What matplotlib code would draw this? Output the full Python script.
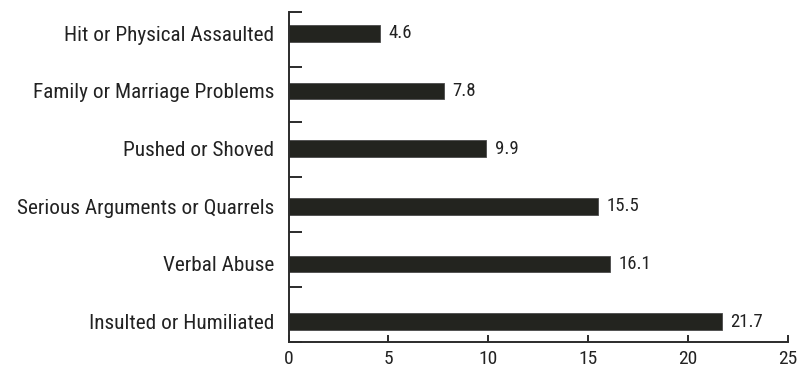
import matplotlib
matplotlib.use("Agg")
import matplotlib.pyplot as plt
import numpy as np

plt.rcParams["font.family"] = ["Roboto Condensed", "Liberation Sans", "DejaVu Sans"]

categories = [
    "Insulted or Humiliated",
    "Verbal Abuse",
    "Serious Arguments or Quarrels",
    "Pushed or Shoved",
    "Family or Marriage Problems",
    "Hit or Physical Assaulted",
]
percent = [21.7, 16.1, 15.5, 9.9, 7.8, 4.6]
x_ticks = [0, 5, 10, 15, 20, 25]

BAR_COLOR = "#23241f"
AXIS_COLOR = "#2b2b2b"
TEXT_COLOR = "#222222"

fig = plt.figure(figsize=(7.98, 3.68), dpi=100)
ax = fig.add_axes([288.5 / 798, (368 - 341.7) / 368, (787.7 - 288.5) / 798, (341.7 - 12.3) / 368])

pos = np.arange(len(categories))
ax.barh(pos, percent, height=0.29, color=BAR_COLOR, edgecolor="#4a4a4a", linewidth=0.6)
for y, v in zip(pos, percent):
    ax.text(v + 0.42, y, f"{v:.1f}", va="center", ha="left", fontsize=13.5, color=TEXT_COLOR)

ylo, yhi = -0.347, 5.362
ax.set_ylim(ylo, yhi)
ax.set_xlim(0, 25)

# category labels on major ticks, separator ticks on minor
ax.set_yticks(pos)
ax.set_yticklabels(categories, fontsize=15.3, color=TEXT_COLOR)
ax.tick_params(axis="y", which="major", length=0, pad=10)
ax.set_yticks(np.linspace(ylo, yhi, 7), minor=True)
ax.tick_params(axis="y", which="minor", direction="in", length=9, width=1.4, color=AXIS_COLOR)

ax.set_xticks(x_ticks)
ax.set_xticklabels([str(t) for t in x_ticks], fontsize=14, color=TEXT_COLOR)
ax.tick_params(axis="x", direction="in", length=5, width=1.4, color=AXIS_COLOR, pad=6)

for side in ("top", "right"):
    ax.spines[side].set_visible(False)
for side in ("left", "bottom"):
    ax.spines[side].set_color(AXIS_COLOR)
    ax.spines[side].set_linewidth(1.4)

fig.savefig("out.png", dpi=100)
